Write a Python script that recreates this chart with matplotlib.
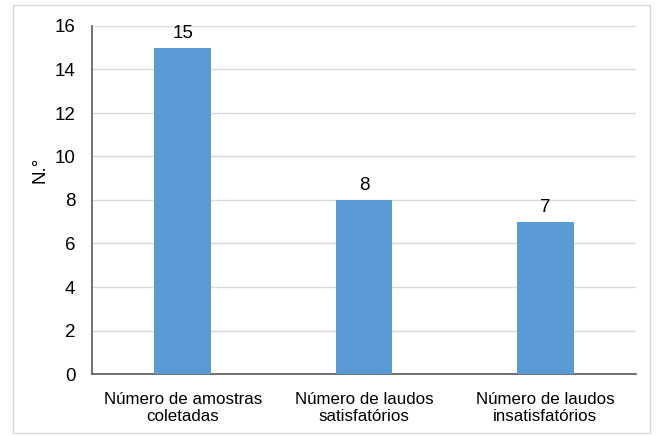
import matplotlib
matplotlib.use("Agg")
import matplotlib.pyplot as plt
from matplotlib.patches import Rectangle

categories = ["Número de amostras\ncoletadas", "Número de laudos\nsatisfatórios", "Número de laudos\ninsatisfatórios"]
values = [15, 8, 7]
yticks = [0, 2, 4, 6, 8, 10, 12, 14, 16]

plt.rcParams['font.family'] = ['Liberation Sans', 'DejaVu Sans']

fig = plt.figure(figsize=(6.56, 4.36), dpi=100)
W, H = 656, 436
ax = fig.add_axes([92/W, 1 - 374/H, (636-92)/W, (374-26)/H])

x = list(range(len(categories)))
bars = ax.bar(x, values, width=0.314, color="#5B9BD5", zorder=3)
for xi, v in zip(x, values):
    ax.annotate(str(v), (xi, v), xytext=(0, 4), textcoords="offset points",
                ha="center", va="bottom", fontsize=13.5, color="#000000")

ax.set_xlim(-0.5, 2.5)
ax.set_ylim(0, 16)
ax.set_yticks(yticks)
ax.set_yticklabels([str(t) for t in yticks], fontsize=13.5)
ax.set_xticks(x)
ax.set_xticklabels(categories, fontsize=12.2, linespacing=1.15)
ax.tick_params(axis='y', length=0, pad=12)
ax.tick_params(axis='x', length=0, pad=13)
ax.yaxis.grid(True, color="#D9D9D9", linewidth=1, zorder=0)
ax.set_axisbelow(True)
for s in ["top", "right"]:
    ax.spines[s].set_visible(False)
for s in ["left", "bottom"]:
    ax.spines[s].set_color("#595959")
    ax.spines[s].set_linewidth(1.2)
ax.set_ylabel("N.°", fontsize=13.5)
ax.yaxis.set_label_coords((48 - 92) / (636 - 92), (374 - 170) / (374 - 26))

fig.patches.append(Rectangle((13/W, 1 - 433/H), (650-13)/W, (433-5)/H,
                             transform=fig.transFigure, fill=False,
                             edgecolor="#D9D9D9", linewidth=1))

fig.savefig("out.png", dpi=100)
